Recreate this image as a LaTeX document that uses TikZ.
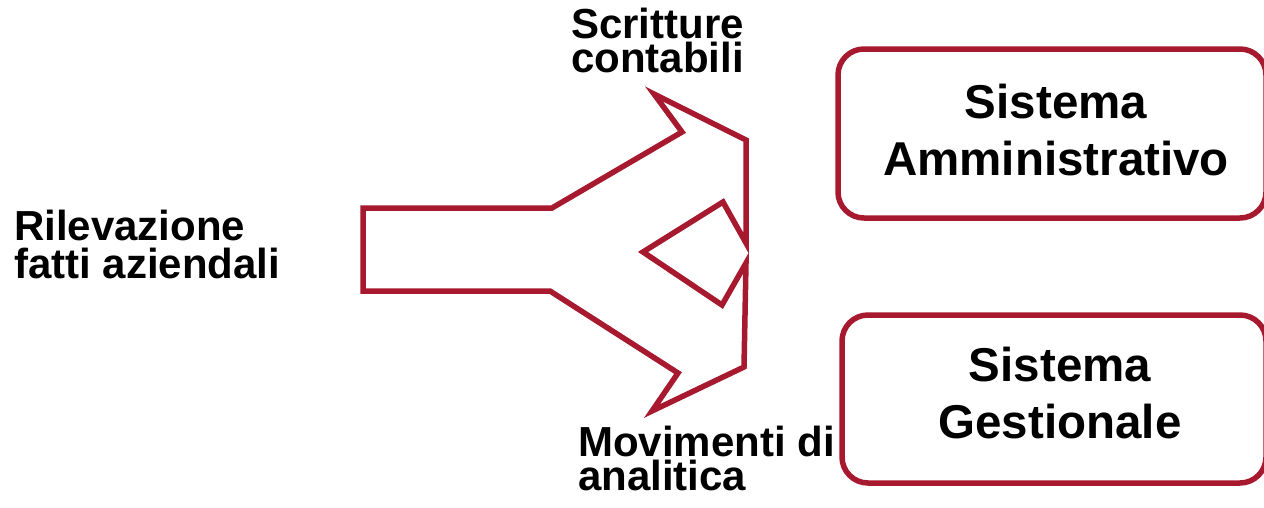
\documentclass[tikz,border=0pt]{standalone}
\usepackage{fontspec}
\setmainfont{Liberation Sans}
\definecolor{wine}{HTML}{A6192E}
\begin{document}
\begin{tikzpicture}[x=1pt,y=-1pt,
  outline/.style={draw=wine,line width=5.5pt},
  sysbox/.style={outline,rounded corners=26pt},
  small/.style={font=\bfseries\fontsize{42}{34}\selectfont,align=left,inner sep=0pt,anchor=base west},
  big/.style={font=\bfseries\fontsize{47.5}{57}\selectfont,align=center,inner sep=0pt,anchor=base}]
\useasboundingbox (0,0) rectangle (1264,507);
% fork arrow shape
\draw[outline,line join=miter]
  (552,208) -- (363,208) -- (363,291) -- (550,291)
  -- (678,373) -- (652,411) -- (744,367) -- (746,263)
  -- (722,305) -- (643,252) -- (723,202) -- (746,243)
  -- (746,140) -- (654,94) -- (682,132) -- cycle;
% system boxes
\draw[sysbox] (838,49) rectangle (1266,218);
\draw[sysbox] (842,315) rectangle (1266,483);
\node[big] (amm) at (1056,175) {Sistema\\Amministrativo};
\node[big] (ges) at (1060,438) {Sistema\\Gestionale};
% labels
\node[small,font=\bfseries\fontsize{42}{38}\selectfont] (ril) at (14,278) {Rilevazione\\fatti aziendali};
\node[small] (scr) at (571,72) {Scritture\\contabili};
\node[small] (mov) at (578,490) {Movimenti di\\analitica};
\end{tikzpicture}
\end{document}
